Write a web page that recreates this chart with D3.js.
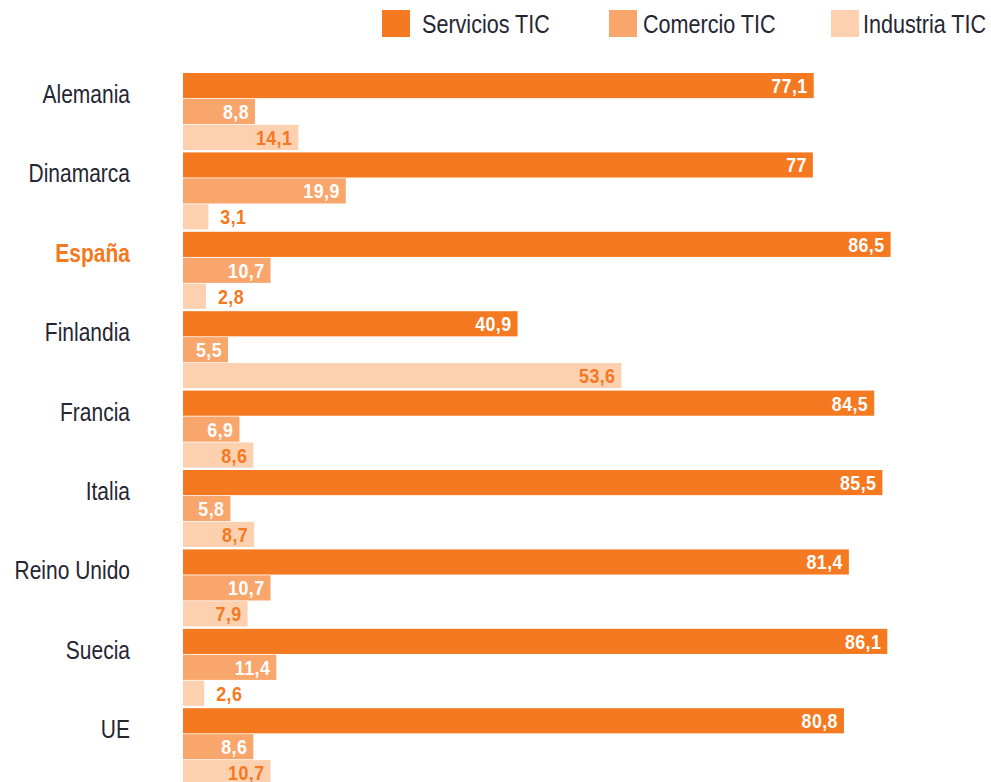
<!DOCTYPE html>
<html>
<head>
<meta charset="utf-8">
<script src="https://cdn.jsdelivr.net/npm/d3@7"></script>
<style>
  html, body { margin: 0; padding: 0; background: #fff; }
  svg { display: block; }
  text { font-family: "Liberation Sans", Arial, "DejaVu Sans", sans-serif; }
</style>
</head>
<body>
<svg id="chart" width="991" height="782"></svg>
<script>
const categories = ["Alemania", "Dinamarca", "España", "Finlandia", "Francia", "Italia", "Reino Unido", "Suecia", "UE"];
const seriesNames = ["Servicios TIC", "Comercio TIC", "Industria TIC"];
const servicios = [77.1, 77, 86.5, 40.9, 84.5, 85.5, 81.4, 86.1, 80.8];
const comercio  = [8.8, 19.9, 10.7, 5.5, 6.9, 5.8, 10.7, 11.4, 8.6];
const industria = [14.1, 3.1, 2.8, 53.6, 8.6, 8.7, 7.9, 2.6, 10.7];
const highlight = "España";

const seriesValues = [servicios, comercio, industria];
const colors = ["#f47920", "#f9a66c", "#fdd0b0"];
const labelColors = ["#ffffff", "#ffffff", "#f47920"];
const outsideColor = "#f47920";
const textColor = "#262633";

const svg = d3.select("#chart");

const x = d3.scaleLinear().domain([0, 100]).range([183, 183 + 818]);
const y0 = d3.scaleBand().domain(categories).range([73, 73 + 9 * 79.4]).paddingInner(0).paddingOuter(0);
const y1 = d3.scaleBand().domain(seriesNames).range([0, 77]).paddingInner(0.03).paddingOuter(0);

const fmt = v => String(v).replace(".", ",");
const SX_LABEL = 0.84, SX_VAL = 0.85, SX_LEG = 0.83;

const groups = svg.append("g").selectAll("g")
  .data(categories)
  .join("g")
  .attr("transform", d => `translate(0,${y0(d)})`);

groups.each(function(cat, ci) {
  const g = d3.select(this);
  seriesNames.forEach((s, si) => {
    const v = seriesValues[si][ci];
    const barW = x(v) - x(0);
    const yc = y1(s) + y1.bandwidth() / 2 + 7.5;
    g.append("rect")
      .attr("x", x(0))
      .attr("y", y1(s))
      .attr("width", barW)
      .attr("height", y1.bandwidth())
      .attr("fill", colors[si]);
    const t = g.append("text")
      .attr("font-size", 21)
      .attr("font-weight", "bold")
      .attr("letter-spacing", 0.5)
      .text(fmt(v));
    const w = t.node().getComputedTextLength() * SX_VAL;
    if (w + 10 > barW) {
      t.attr("text-anchor", "start")
       .attr("fill", outsideColor)
       .attr("transform", `translate(${x(v) + 12},${yc}) scale(${SX_VAL},1)`);
    } else {
      t.attr("text-anchor", "end")
       .attr("fill", labelColors[si])
       .attr("transform", `translate(${x(v) - 6},${yc}) scale(${SX_VAL},1)`);
    }
  });
  g.append("text")
    .attr("transform", `translate(130,30) scale(${SX_LABEL},1)`)
    .attr("text-anchor", "end")
    .attr("font-size", 25)
    .attr("font-weight", cat === highlight ? "bold" : "normal")
    .attr("fill", cat === highlight ? "#f47920" : textColor)
    .text(cat);
});

// Legend
const legendX = [382, 609, 831];
const legendTextX = [422, 643, 863];
const legend = svg.append("g");
seriesNames.forEach((s, i) => {
  legend.append("rect")
    .attr("x", legendX[i]).attr("y", 10)
    .attr("width", 28).attr("height", 27)
    .attr("fill", colors[i]);
  legend.append("text")
    .attr("transform", `translate(${legendTextX[i]},33) scale(${SX_LEG},1)`)
    .attr("font-size", 26)
    .attr("fill", textColor)
    .text(s);
});
</script>
</body>
</html>
